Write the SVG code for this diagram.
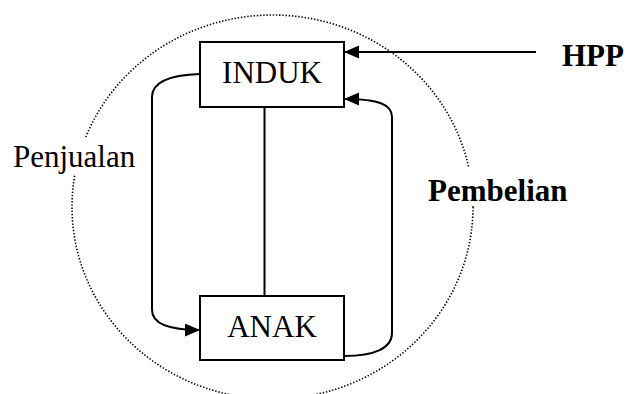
<svg xmlns="http://www.w3.org/2000/svg" width="627" height="394" viewBox="0 0 627 394">
<style>
.box{fill:#fff;stroke:#000;stroke-width:2}
.conn{fill:none;stroke:#000;stroke-width:2}
.t{font-family:"Liberation Serif","Times New Roman",serif;font-size:31px;fill:#000}
.b{font-weight:bold}
.bg{fill:#fff;stroke:none}
</style>
<defs>
<marker id="arr" markerUnits="userSpaceOnUse" markerWidth="16" markerHeight="14" refX="15" refY="6.5" orient="auto">
<path d="M0,0 L15,6.5 L0,13 z" fill="#000"/>
</marker>
</defs>
<rect width="627" height="394" fill="#fff"/>
<g id="boundary">
<ellipse cx="272.5" cy="207" rx="200.5" ry="192" fill="none" stroke="#000" stroke-width="1.6" stroke-dasharray="1.4 1.8"/>
</g>
<g id="connectors">
<line class="conn" x1="264.5" y1="107" x2="264.5" y2="296" stroke-width="1.6"/>
<path class="conn" d="M200,74 C170,75 152,82 152,97 L152,310 C152,322 165,330 200,330" marker-end="url(#arr)"/>
<path class="conn" d="M344,356 C375,356 392,348 392,333 L392,117 C392,105 380,99 344,99" marker-end="url(#arr)"/>
<line class="conn" x1="536" y1="52" x2="344" y2="52" marker-end="url(#arr)"/>
</g>
<g id="induk">
<rect class="box" x="200" y="42" width="144" height="65"/>
<text class="t" x="272" y="83" text-anchor="middle">INDUK</text>
</g>
<g id="anak">
<rect class="box" x="200" y="296" width="144" height="64"/>
<text class="t" x="272" y="337" text-anchor="middle">ANAK</text>
</g>
<g id="hpp">
<text class="t b" x="562" y="66">HPP</text>
</g>
<g id="penjualan">
<rect class="bg" x="10" y="137" width="130" height="38"/>
<text class="t" x="13" y="167">Penjualan</text>
</g>
<g id="pembelian">
<rect class="bg" x="425" y="167" width="146" height="39"/>
<text class="t b" x="428" y="201">Pembelian</text>
</g>
</svg>
